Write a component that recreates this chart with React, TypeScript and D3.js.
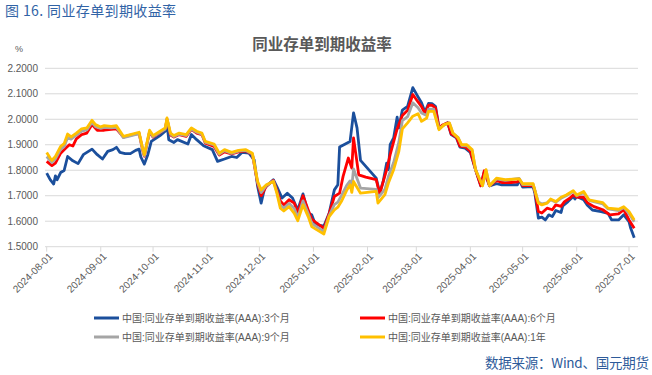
import { useEffect, useRef } from "react";
import * as d3 from "d3";

// 3个月
const dates3M = [
  "2024-08-01", "2024-08-03", "2024-08-05", "2024-08-06", "2024-08-07", "2024-08-09", "2024-08-11", "2024-08-13",
  "2024-08-16", "2024-08-19", "2024-08-22", "2024-08-27", "2024-08-30", "2024-09-02", "2024-09-05", "2024-09-08",
  "2024-09-10", "2024-09-12", "2024-09-15", "2024-09-18", "2024-09-21", "2024-09-23", "2024-09-24", "2024-09-26",
  "2024-09-28", "2024-09-30", "2024-10-05", "2024-10-08", "2024-10-09", "2024-10-10", "2024-10-13", "2024-10-15",
  "2024-10-21", "2024-10-23", "2024-10-26", "2024-10-30", "2024-11-04", "2024-11-07", "2024-11-11", "2024-11-15",
  "2024-11-18", "2024-11-21", "2024-11-25", "2024-11-28", "2024-11-30", "2024-12-02", "2024-12-04", "2024-12-09",
  "2024-12-11", "2024-12-14", "2024-12-17", "2024-12-20", "2024-12-23", "2024-12-26", "2024-12-29", "2024-12-31",
  "2025-01-02", "2025-01-04", "2025-01-07", "2025-01-10", "2025-01-13", "2025-01-15", "2025-01-16", "2025-01-22",
  "2025-01-24", "2025-01-26", "2025-01-28", "2025-02-06", "2025-02-08", "2025-02-10", "2025-02-12", "2025-02-13",
  "2025-02-14", "2025-02-16", "2025-02-18", "2025-02-19", "2025-02-21", "2025-02-24", "2025-02-27", "2025-03-02",
  "2025-03-04", "2025-03-06", "2025-03-08", "2025-03-10", "2025-03-12", "2025-03-14", "2025-03-16", "2025-03-19",
  "2025-03-21", "2025-03-24", "2025-03-26", "2025-03-29", "2025-04-01", "2025-04-04", "2025-04-07", "2025-04-09",
  "2025-04-12", "2025-04-16", "2025-04-19", "2025-04-25", "2025-04-28", "2025-04-29", "2025-05-01", "2025-05-07",
  "2025-05-08", "2025-05-10", "2025-05-12", "2025-05-14", "2025-05-16", "2025-05-18", "2025-05-20", "2025-05-23",
  "2025-05-24", "2025-05-27", "2025-05-30", "2025-05-31", "2025-06-01", "2025-06-05", "2025-06-07", "2025-06-10",
  "2025-06-15", "2025-06-19", "2025-06-21", "2025-06-25", "2025-06-28", "2025-07-01", "2025-07-02", "2025-07-04"
];
const vals3M = [
  1.789, 1.763, 1.746, 1.778, 1.763, 1.791, 1.799, 1.854,
  1.837, 1.826, 1.861, 1.883, 1.861, 1.844, 1.874, 1.881,
  1.890, 1.870, 1.865, 1.865, 1.878, 1.883, 1.852, 1.824,
  1.861, 1.913, 1.936, 1.953, 1.985, 1.920, 1.909, 1.920,
  1.903, 1.940, 1.920, 1.896, 1.881, 1.835, 1.844, 1.854,
  1.850, 1.870, 1.867, 1.841, 1.736, 1.671, 1.730, 1.763,
  1.736, 1.691, 1.710, 1.691, 1.644, 1.707, 1.631, 1.625,
  1.589, 1.585, 1.581, 1.631, 1.723, 1.743, 1.891, 1.913,
  2.025, 1.966, 1.839, 1.769, 1.710, 1.756, 1.828, 1.802,
  1.900, 1.927, 2.008, 1.966, 2.036, 2.051, 2.124, 2.088,
  2.065, 2.028, 2.062, 2.061, 2.051, 1.966, 1.975, 1.986,
  1.940, 1.927, 1.891, 1.887, 1.870, 1.802, 1.739, 1.795,
  1.739, 1.747, 1.743, 1.743, 1.743, 1.763, 1.734, 1.736,
  1.710, 1.612, 1.616, 1.605, 1.625, 1.618, 1.642, 1.634,
  1.660, 1.677, 1.697, 1.687, 1.697, 1.684, 1.664, 1.644,
  1.638, 1.631, 1.605, 1.605, 1.625, 1.598, 1.572, 1.535
];

// 6个月
const dates6M = [
  "2024-08-01", "2024-08-04", "2024-08-06", "2024-08-09", "2024-08-12", "2024-08-14", "2024-08-16", "2024-08-18",
  "2024-08-21", "2024-08-24", "2024-08-27", "2024-08-30", "2024-09-03", "2024-09-07", "2024-09-10", "2024-09-14",
  "2024-09-18", "2024-09-23", "2024-09-25", "2024-09-26", "2024-09-29", "2024-10-01", "2024-10-05", "2024-10-08",
  "2024-10-09", "2024-10-11", "2024-10-13", "2024-10-16", "2024-10-20", "2024-10-23", "2024-10-26", "2024-10-29",
  "2024-10-31", "2024-11-05", "2024-11-08", "2024-11-11", "2024-11-15", "2024-11-19", "2024-11-23", "2024-11-27",
  "2024-11-30", "2024-12-02", "2024-12-05", "2024-12-09", "2024-12-11", "2024-12-13", "2024-12-15", "2024-12-18",
  "2024-12-21", "2024-12-23", "2024-12-26", "2024-12-29", "2024-12-31", "2025-01-03", "2025-01-07", "2025-01-10",
  "2025-01-13", "2025-01-16", "2025-01-18", "2025-01-21", "2025-01-23", "2025-01-24", "2025-01-27", "2025-01-31",
  "2025-02-06", "2025-02-08", "2025-02-12", "2025-02-14", "2025-02-18", "2025-02-21", "2025-02-24", "2025-02-27",
  "2025-03-02", "2025-03-04", "2025-03-06", "2025-03-08", "2025-03-10", "2025-03-12", "2025-03-14", "2025-03-16",
  "2025-03-19", "2025-03-21", "2025-03-24", "2025-03-26", "2025-03-29", "2025-04-01", "2025-04-04", "2025-04-07",
  "2025-04-09", "2025-04-12", "2025-04-16", "2025-04-19", "2025-04-25", "2025-04-28", "2025-04-29", "2025-05-01",
  "2025-05-07", "2025-05-08", "2025-05-10", "2025-05-12", "2025-05-15", "2025-05-18", "2025-05-20", "2025-05-23",
  "2025-05-25", "2025-05-28", "2025-05-30", "2025-06-01", "2025-06-05", "2025-06-07", "2025-06-11", "2025-06-16",
  "2025-06-20", "2025-06-25", "2025-06-28", "2025-07-01", "2025-07-04"
];
const vals6M = [
  1.835, 1.818, 1.828, 1.867, 1.887, 1.900, 1.895, 1.923,
  1.940, 1.946, 1.979, 1.957, 1.957, 1.960, 1.962, 1.930,
  1.938, 1.945, 1.880, 1.855, 1.950, 1.930, 1.948, 1.962,
  2.000, 1.938, 1.930, 1.940, 1.933, 1.960, 1.946, 1.940,
  1.906, 1.893, 1.860, 1.872, 1.864, 1.872, 1.876, 1.862,
  1.748, 1.700, 1.738, 1.760, 1.722, 1.680, 1.664, 1.684,
  1.671, 1.631, 1.700, 1.644, 1.608, 1.592, 1.572, 1.629,
  1.697, 1.710, 1.776, 1.848, 1.809, 1.927, 1.782, 1.773,
  1.763, 1.707, 1.802, 1.861, 1.962, 2.015, 2.035, 2.097,
  2.068, 2.050, 2.022, 2.055, 2.055, 2.045, 1.966, 1.977,
  1.986, 1.943, 1.930, 1.895, 1.892, 1.875, 1.802, 1.739,
  1.798, 1.739, 1.760, 1.752, 1.752, 1.754, 1.765, 1.740,
  1.740, 1.720, 1.638, 1.632, 1.651, 1.645, 1.664, 1.658,
  1.677, 1.690, 1.703, 1.695, 1.694, 1.673, 1.657, 1.645,
  1.625, 1.629, 1.645, 1.605, 1.572
];

// 9个月 and 1年 share the same dates
const dates1Y = [
  "2024-08-01", "2024-08-03", "2024-08-04", "2024-08-06", "2024-08-09", "2024-08-11", "2024-08-13", "2024-08-15",
  "2024-08-18", "2024-08-21", "2024-08-24", "2024-08-27", "2024-08-29", "2024-09-01", "2024-09-03", "2024-09-07",
  "2024-09-10", "2024-09-14", "2024-09-18", "2024-09-23", "2024-09-25", "2024-09-26", "2024-09-29", "2024-10-01",
  "2024-10-05", "2024-10-08", "2024-10-09", "2024-10-11", "2024-10-13", "2024-10-16", "2024-10-20", "2024-10-23",
  "2024-10-26", "2024-10-29", "2024-10-31", "2024-11-05", "2024-11-08", "2024-11-11", "2024-11-15", "2024-11-19",
  "2024-11-23", "2024-11-27", "2024-11-30", "2024-12-02", "2024-12-05", "2024-12-09", "2024-12-11", "2024-12-13",
  "2024-12-15", "2024-12-18", "2024-12-21", "2024-12-23", "2024-12-26", "2024-12-29", "2024-12-31", "2025-01-03",
  "2025-01-07", "2025-01-10", "2025-01-13", "2025-01-15", "2025-01-17", "2025-01-20", "2025-01-22", "2025-01-23",
  "2025-01-24", "2025-01-28", "2025-02-06", "2025-02-07", "2025-02-11", "2025-02-13", "2025-02-16", "2025-02-19",
  "2025-02-21", "2025-02-24", "2025-02-27", "2025-03-02", "2025-03-04", "2025-03-07", "2025-03-08", "2025-03-11",
  "2025-03-14", "2025-03-17", "2025-03-20", "2025-03-22", "2025-03-25", "2025-03-27", "2025-03-30", "2025-04-02",
  "2025-04-04", "2025-04-08", "2025-04-10", "2025-04-12", "2025-04-16", "2025-04-21", "2025-04-29", "2025-05-01",
  "2025-05-07", "2025-05-10", "2025-05-12", "2025-05-15", "2025-05-17", "2025-05-20", "2025-05-23", "2025-05-26",
  "2025-05-30", "2025-06-01", "2025-06-05", "2025-06-08", "2025-06-13", "2025-06-16", "2025-06-19", "2025-06-25",
  "2025-06-28", "2025-07-01", "2025-07-04"
];
const vals9M = [
  1.854, 1.838, 1.830, 1.845, 1.882, 1.893, 1.928, 1.922,
  1.938, 1.953, 1.958, 1.988, 1.971, 1.964, 1.968, 1.966,
  1.968, 1.928, 1.935, 1.944, 1.882, 1.857, 1.952, 1.932,
  1.949, 1.962, 2.001, 1.942, 1.932, 1.942, 1.936, 1.962,
  1.949, 1.942, 1.909, 1.899, 1.863, 1.877, 1.866, 1.875,
  1.878, 1.864, 1.752, 1.712, 1.740, 1.758, 1.715, 1.663,
  1.652, 1.670, 1.650, 1.615, 1.680, 1.630, 1.592, 1.578,
  1.560, 1.622, 1.665, 1.675, 1.700, 1.740, 1.758, 1.735,
  1.805, 1.730, 1.725, 1.692, 1.725, 1.775, 1.830, 1.910,
  1.995, 2.010, 2.065, 2.045, 2.025, 2.015, 2.040, 2.040,
  1.963, 1.978, 1.985, 1.945, 1.928, 1.897, 1.896, 1.878,
  1.802, 1.739, 1.800, 1.739, 1.766, 1.760, 1.768, 1.744,
  1.745, 1.675, 1.668, 1.672, 1.684, 1.675, 1.690, 1.700,
  1.716, 1.700, 1.712, 1.682, 1.673, 1.668, 1.648, 1.642,
  1.654, 1.630, 1.598
];
const vals1Y = [
  1.870, 1.848, 1.839, 1.854, 1.894, 1.904, 1.942, 1.931,
  1.946, 1.962, 1.966, 1.996, 1.979, 1.970, 1.975, 1.972,
  1.975, 1.933, 1.940, 1.949, 1.887, 1.861, 1.957, 1.936,
  1.953, 1.966, 2.005, 1.946, 1.936, 1.946, 1.940, 1.966,
  1.953, 1.946, 1.913, 1.903, 1.867, 1.881, 1.870, 1.878,
  1.881, 1.867, 1.756, 1.723, 1.743, 1.756, 1.710, 1.651,
  1.640, 1.657, 1.631, 1.602, 1.664, 1.618, 1.579, 1.566,
  1.550, 1.618, 1.644, 1.655, 1.677, 1.720, 1.743, 1.713,
  1.756, 1.710, 1.717, 1.671, 1.704, 1.750, 1.802, 1.874,
  1.962, 1.986, 2.012, 2.022, 1.992, 2.005, 2.031, 2.031,
  1.959, 1.979, 1.986, 1.946, 1.927, 1.900, 1.900, 1.881,
  1.802, 1.739, 1.802, 1.739, 1.769, 1.763, 1.766, 1.747,
  1.747, 1.671, 1.664, 1.671, 1.687, 1.677, 1.694, 1.703,
  1.720, 1.703, 1.717, 1.684, 1.677, 1.673, 1.651, 1.647,
  1.657, 1.638, 1.605
];

const yTicks = [1.5, 1.6, 1.7, 1.8, 1.9, 2.0, 2.1, 2.2];
const xTicks = [
  "2024-08-01", "2024-09-01", "2024-10-01", "2024-11-01", "2024-12-01", "2025-01-01",
  "2025-02-01", "2025-03-01", "2025-04-01", "2025-05-01", "2025-06-01", "2025-07-01"
];
const seriesNames = [
  "中国:同业存单到期收益率(AAA):3个月",
  "中国:同业存单到期收益率(AAA):6个月",
  "中国:同业存单到期收益率(AAA):9个月",
  "中国:同业存单到期收益率(AAA):1年"
];
const COLORS = ["#1B4F9C", "#FF0000", "#A5A5A5", "#FFC000"];

const FONT = "'Liberation Sans', 'Noto Sans CJK SC', sans-serif";
const CJK = "'Noto Sans CJK SC', sans-serif";

export default function App() {
  const ref = useRef<SVGSVGElement>(null);

  useEffect(() => {
    const parse = d3.timeParse("%Y-%m-%d");
    const svg = d3.select(ref.current);
    svg.selectAll("*").remove();

    const x = d3.scaleTime()
      .domain([parse("2024-08-01")!, parse("2025-07-01")!])
      .range([46.7, 629]);
    const y = d3.scaleLinear().domain([1.5, 2.2]).range([246.7, 68.3]);
    const left = 45, right = 638;

    svg.append("rect").attr("width", 652).attr("height", 375).attr("fill", "#fff");

    // header
    svg.append("text")
      .attr("x", 5).attr("y", 16)
      .attr("font-family", CJK).attr("font-size", 14)
      .attr("fill", "#3163A6")
      .attr("textLength", 171).attr("lengthAdjust", "spacing")
      .text("图 16.  同业存单到期收益率");

    svg.append("text")
      .attr("x", 322).attr("y", 50)
      .attr("text-anchor", "middle")
      .attr("font-family", CJK).attr("font-size", 15.5).attr("font-weight", "bold")
      .attr("fill", "#595959")
      .text("同业存单到期收益率");

    svg.append("text")
      .attr("x", 19).attr("y", 52)
      .attr("text-anchor", "middle")
      .attr("font-family", FONT).attr("font-size", 9)
      .attr("fill", "#595959")
      .text("%");

    // grid + y labels
    const grid = svg.append("g");
    grid.selectAll("line")
      .data(yTicks)
      .join("line")
      .attr("x1", left).attr("x2", right)
      .attr("y1", (d) => y(d)).attr("y2", (d) => y(d))
      .attr("stroke", "#D9D9D9").attr("stroke-width", 1);

    svg.append("g")
      .selectAll("text")
      .data(yTicks)
      .join("text")
      .attr("x", 38).attr("y", (d) => y(d))
      .attr("dy", "0.35em")
      .attr("text-anchor", "end")
      .attr("font-family", FONT).attr("font-size", 10)
      .attr("fill", "#595959")
      .text((d) => d.toFixed(4));

    // x ticks + labels
    const xg = svg.append("g");
    xg.selectAll("line")
      .data(xTicks)
      .join("line")
      .attr("x1", (d) => x(parse(d)!)).attr("x2", (d) => x(parse(d)!))
      .attr("y1", y(1.5)).attr("y2", y(1.5) + 5)
      .attr("stroke", "#D9D9D9");

    xg.selectAll("text")
      .data(xTicks)
      .join("text")
      .attr("transform", (d) => `translate(${x(parse(d)!) + 4},${y(1.5) + 8}) rotate(-45)`)
      .attr("dy", "0.35em")
      .attr("text-anchor", "end")
      .attr("font-family", FONT).attr("font-size", 10)
      .attr("fill", "#595959")
      .text((d) => d);

    // lines
    const series = [
      { dates: dates3M, vals: vals3M },
      { dates: dates6M, vals: vals6M },
      { dates: dates1Y, vals: vals9M },
      { dates: dates1Y, vals: vals1Y }
    ];
    const line = d3.line<[Date, number]>()
      .x((d) => x(d[0]))
      .y((d) => y(d[1]));

    series.forEach((s, i) => {
      const pts: [Date, number][] = s.dates.map((d, j) => [parse(d)!, s.vals[j]]);
      svg.append("path")
        .attr("d", line(pts))
        .attr("fill", "none")
        .attr("stroke", COLORS[i])
        .attr("stroke-width", 2.8)
        .attr("stroke-linejoin", "round");
    });

    // legend
    const lg = svg.append("g");
    const legendPos = [[94, 318], [360, 318], [94, 337], [360, 337]];
    seriesNames.forEach((name, i) => {
      const [lx, ly] = legendPos[i];
      lg.append("line")
        .attr("x1", lx).attr("x2", lx + 25)
        .attr("y1", ly).attr("y2", ly)
        .attr("stroke", COLORS[i]).attr("stroke-width", 3);
      lg.append("text")
        .attr("x", lx + 28).attr("y", ly)
        .attr("dy", "0.35em")
        .attr("font-family", FONT).attr("font-size", 10)
        .attr("fill", "#595959")
        .text(name);
    });

    svg.append("text")
      .attr("x", 649).attr("y", 368)
      .attr("text-anchor", "end")
      .attr("font-family", CJK).attr("font-size", 13.5)
      .attr("fill", "#2E5B9A")
      .attr("textLength", 164).attr("lengthAdjust", "spacing")
      .text("数据来源：Wind、国元期货");
  }, []);

  return (
    <svg
      ref={ref}
      width={652}
      height={375}
      style={{ position: "absolute", left: 0, top: 0 }}
    />
  );
}
